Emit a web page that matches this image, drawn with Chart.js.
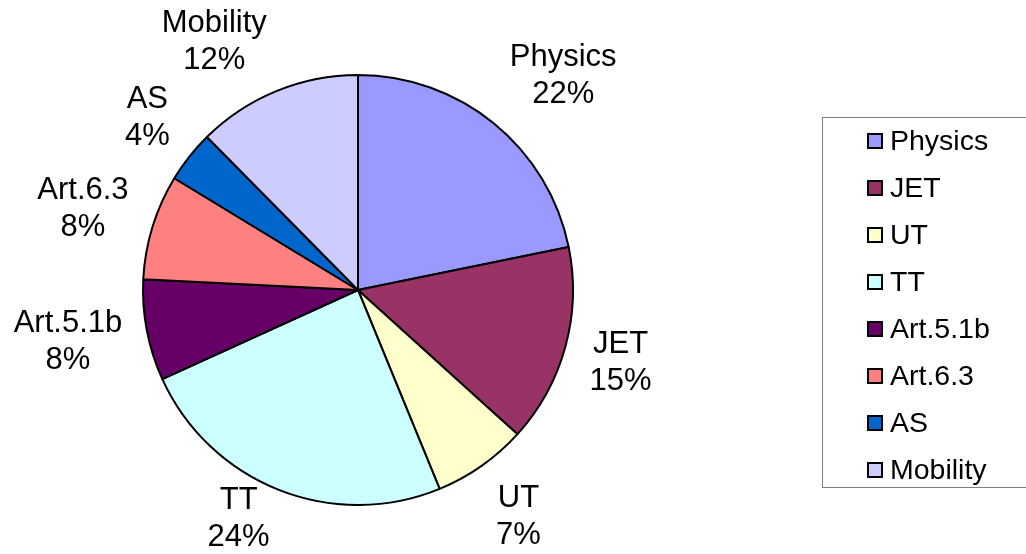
<!DOCTYPE html>
<html>
<head>
<meta charset="utf-8">
<script src="https://cdn.jsdelivr.net/npm/chart.js@4/dist/chart.umd.min.js"></script>
<style>
  html, body { margin: 0; padding: 0; background: #fff; }
  #wrap { width: 1026px; height: 554px; position: relative; }
</style>
</head>
<body>
<div id="wrap"><canvas id="myCanvas" width="1026" height="554"></canvas></div>
<script>
'use strict';

// data
const categories = ['Physics', 'JET', 'UT', 'TT', 'Art.5.1b', 'Art.6.3', 'AS', 'Mobility'];
const shares = [21.8, 14.9, 7.1, 24.4, 7.6, 7.9, 3.9, 12.4];
const sliceColors = ['#9999FF', '#993366', '#FFFFCC', '#CCFFFF', '#660066', '#FF8080', '#0066CC', '#CCCCFF'];

const FONT = 'Arial, "Liberation Sans", sans-serif';

// labels outside each slice: "name" over "nn%"
const outsideLabels = {
  id: 'outsideLabels',
  afterDatasetsDraw(chart) {
    const ctx = chart.ctx;
    const meta = chart.getDatasetMeta(0);
    const data = chart.data.datasets[0].data;
    const total = data.reduce((a, b) => a + b, 0);
    const lineH = 37;
    ctx.save();
    ctx.font = '31px ' + FONT;
    ctx.fillStyle = '#000';
    ctx.textAlign = 'center';
    ctx.textBaseline = 'middle';
    meta.data.forEach(function (arc, i) {
      const mid = (arc.startAngle + arc.endAngle) / 2;
      const dx = Math.cos(mid);
      const dy = Math.sin(mid);
      const R = arc.outerRadius + 25;
      const px = arc.x + dx * R;
      const py = arc.y + dy * R;
      const lines = [chart.data.labels[i], Math.round(data[i] / total * 100) + '%'];
      const w = Math.max(ctx.measureText(lines[0]).width, ctx.measureText(lines[1]).width);
      const h = lineH * 2;
      let cx = px + Math.sign(dx) * w / 2;
      let cy = py + dy * h / 2;
      cy = Math.max(h / 2 + 5, Math.min(chart.height - h / 2 + 2, cy));
      ctx.fillText(lines[0], cx, cy - lineH / 2);
      ctx.fillText(lines[1], cx, cy + lineH / 2);
    });
    ctx.restore();
  }
};

// legend box at the right, like the spreadsheet one
const boxLegend = {
  id: 'boxLegend',
  afterDraw(chart) {
    const ctx = chart.ctx;
    const labels = chart.data.labels;
    const colors = chart.data.datasets[0].backgroundColor;
    const left = 822, top = 117, bottom = 487;
    ctx.save();
    ctx.strokeStyle = '#808080';
    ctx.lineWidth = 1;
    ctx.strokeRect(left + 0.5, top + 0.5, 300, bottom - top);
    ctx.font = '28.5px ' + FONT;
    ctx.textBaseline = 'middle';
    ctx.textAlign = 'left';
    for (let i = 0; i < labels.length; i++) {
      const y = 141 + i * 47;
      ctx.fillStyle = colors[i];
      ctx.fillRect(868, y - 7, 14, 14);
      ctx.strokeStyle = '#000';
      ctx.lineWidth = 2;
      ctx.strokeRect(868, y - 7, 14, 14);
      ctx.fillStyle = '#000';
      ctx.fillText(labels[i], 890, y + 1);
    }
    ctx.restore();
  }
};

const chartSection = document.getElementById('myCanvas').getContext('2d');
const myChart = new Chart(chartSection, {
  type: 'pie',
  data: {
    labels: categories,
    datasets: [{
      data: shares,
      backgroundColor: sliceColors,
      borderColor: '#000',
      borderWidth: 2,
      hoverOffset: 0
    }]
  },
  options: {
    responsive: false,
    animation: false,
    layout: { padding: { left: 142, right: 452, top: 74, bottom: 48 } },
    plugins: {
      legend: { display: false },
      tooltip: { enabled: false }
    }
  },
  plugins: [outsideLabels, boxLegend]
});
</script>
</body>
</html>
